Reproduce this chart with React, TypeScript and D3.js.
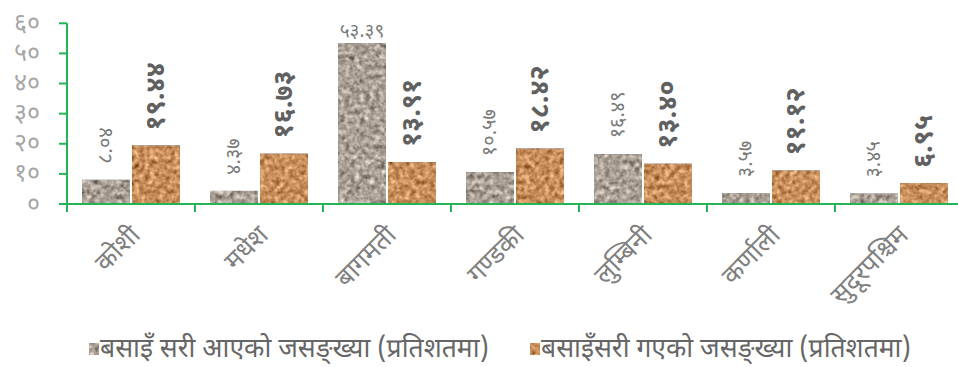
import React from 'react';
import * as d3 from 'd3';

const categories = ['कोशी', 'मधेश', 'बागमती', 'गण्डकी', 'लुम्बिनी', 'कर्णाली', 'सुदूरपश्चिम'];
const inValues = [8.04, 4.37, 53.39, 10.57, 16.49, 3.57, 3.45];
const inLabels = ['८.०४', '४.३७', '५३.३९', '१०.५७', '१६.४९', '३.५७', '३.४५'];
const outValues = [19.44, 16.73, 13.91, 18.42, 13.4, 11.12, 6.95];
const outLabels = ['१९.४४', '१६.७३', '१३.९१', '१८.४२', '१३.४०', '११.१२', '६.९५'];
const yTicks = [0, 10, 20, 30, 40, 50, 60];
const yTickLabels = ['०', '१०', '२०', '३०', '४०', '५०', '६०'];
const seriesNames = ['बसाइँ सरी आएको जसङ्ख्या (प्रतिशतमा)', 'बसाइँसरी गएको जसङ्ख्या (प्रतिशतमा)'];

const W = 958;
const H = 367;
const AXIS = '#22b455';
const FONT = "'Noto Sans Devanagari', 'Noto Sans', sans-serif";

export default function App() {
  const x0 = 67;
  const step = 128;
  const x = d3.scaleBand<string>().domain(categories).range([x0, x0 + step * categories.length]).padding(0);
  const sub = d3.scaleBand<number>().domain([0, 1]).range([15, 113]).paddingInner(0.04).paddingOuter(0);
  const y = d3.scaleLinear().domain([0, 60]).range([204, 23.3]);
  const bw = sub.bandwidth();

  return (
    <svg width={W} height={H} style={{ position: 'absolute', left: 0, top: 0, background: '#fff' }}>
      <defs>
        <filter id="texGray" x="0" y="0" width="1" height="1" colorInterpolationFilters="sRGB">
          <feTurbulence type="fractalNoise" baseFrequency="0.2" numOctaves="2" seed="4" result="n" />
          <feColorMatrix in="n" type="matrix" values="0.33 0.33 0.33 0 0  0.33 0.33 0.33 0 0  0.33 0.33 0.33 0 0  0 0 0 0 1" result="g" />
          <feComposite in="SourceGraphic" in2="g" operator="arithmetic" k1="0" k2="1" k3="1.2" k4="-0.6" result="c" />
          <feComposite in="c" in2="SourceGraphic" operator="in" />
        </filter>
        <filter id="texOrange" x="0" y="0" width="1" height="1" colorInterpolationFilters="sRGB">
          <feTurbulence type="fractalNoise" baseFrequency="0.2" numOctaves="2" seed="9" result="n" />
          <feColorMatrix in="n" type="matrix" values="0.33 0.33 0.33 0 0  0.33 0.33 0.33 0 0  0.33 0.33 0.33 0 0  0 0 0 0 1" result="g" />
          <feComposite in="SourceGraphic" in2="g" operator="arithmetic" k1="0" k2="1" k3="1.1" k4="-0.55" result="c" />
          <feComposite in="c" in2="SourceGraphic" operator="in" />
        </filter>
      </defs>

      {/* y axis tick labels */}
      {yTicks.map((t, i) => (
        <text key={'yl' + i} x={40} y={y(t)} dy="0.3em" textAnchor="end" fontSize={25} fill="#a6a6a6" fontFamily={FONT}>
          {yTickLabels[i]}
        </text>
      ))}

      {/* bars */}
      {categories.map((c, i) => {
        const bx = x(c)!;
        const h0 = y(0) - y(inValues[i]);
        const h1 = y(0) - y(outValues[i]);
        return (
          <g key={'b' + i}>
            <rect x={bx + sub(0)!} y={y(inValues[i])} width={bw} height={h0} fill="#aba197" filter="url(#texGray)" />
            <rect x={bx + sub(1)!} y={y(outValues[i])} width={bw} height={h1} fill="#c98f5c" filter="url(#texOrange)" />
          </g>
        );
      })}

      {/* data labels */}
      {categories.map((c, i) => {
        const bx = x(c)!;
        const cx0 = bx + sub(0)! + bw / 2;
        const cx1 = bx + sub(1)! + bw / 2;
        const ty0 = y(inValues[i]) - 16;
        const ty1 = y(outValues[i]) - 15;
        return (
          <g key={'l' + i}>
            {inValues[i] > 40 ? (
              <text x={cx0} y={y(inValues[i]) - 6} textAnchor="middle" fontSize={19} fill="#7a7a7a" fontFamily={FONT}>
                {inLabels[i]}
              </text>
            ) : (
              <text transform={`translate(${cx0},${ty0}) rotate(-90)`} dy="0.3em" fontSize={20} fill="#7a7a7a" fontFamily={FONT}>
                {inLabels[i]}
              </text>
            )}
            <text transform={`translate(${cx1},${ty1}) rotate(-90)`} dy="0.3em" fontSize={27} fontWeight="bold" fill="#606060" fontFamily={FONT}>
              {outLabels[i]}
            </text>
          </g>
        );
      })}

      {/* axes */}
      <line x1={x0} x2={x0} y1={y(60)} y2={212} stroke={AXIS} strokeWidth={2} />
      {yTicks.map((t, i) => (
        <line key={'yt' + i} x1={x0 - 8} x2={x0} y1={y(t)} y2={y(t)} stroke={AXIS} strokeWidth={2} />
      ))}
      <line x1={x0} x2={W} y1={y(0)} y2={y(0)} stroke={AXIS} strokeWidth={2} />
      {categories.map((c, i) => (
        <line key={'xt' + i} x1={x(c)! + step} x2={x(c)! + step} y1={y(0)} y2={212} stroke={AXIS} strokeWidth={2} />
      ))}

      {/* category labels */}
      {categories.map((c, i) => {
        const cx = x(c)! + step / 2 - 3;
        return (
          <text key={'c' + i} transform={`translate(${cx},${223}) rotate(-45)`} textAnchor="end" dy="0.75em" fontSize={26} fill="#7f7f7f" fontFamily={FONT}>
            {c}
          </text>
        );
      })}

      {/* legend */}
      <rect x={89} y={343} width={10} height={12} fill="#aba197" filter="url(#texGray)" />
      <text x={100} y={357} fontSize={26.5} fill="#666" fontFamily={FONT}>{seriesNames[0]}</text>
      <rect x={530} y={343} width={10} height={12} fill="#c98f5c" filter="url(#texOrange)" />
      <text x={541} y={357} fontSize={26.5} fill="#666" fontFamily={FONT}>{seriesNames[1]}</text>
    </svg>
  );
}
